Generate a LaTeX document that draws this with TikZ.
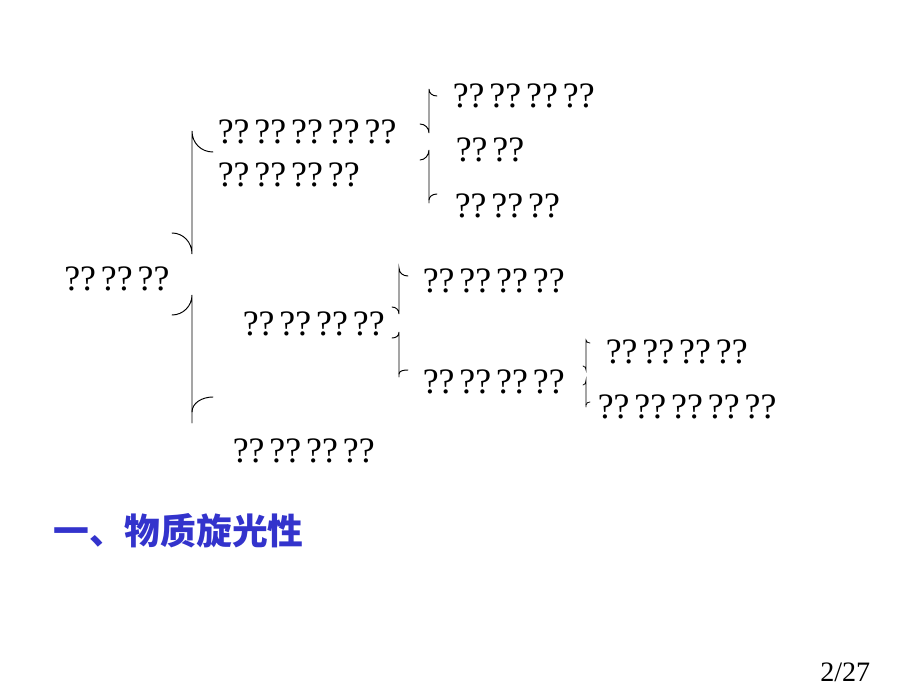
\documentclass[tikz,border=0pt]{standalone}
\usepackage{fontspec}
\setmainfont{Liberation Serif}[WordSpace=0.22]
\newfontfamily\cjk{Noto Sans CJK SC}
\usepackage{tikz}
\definecolor{titleblue}{RGB}{51,51,204}
\tikzstyle{qtext}=[anchor=base west, inner sep=0pt, font=\fontsize{28}{34}\selectfont]
\tikzstyle{titletext}=[anchor=base west, inner sep=0pt, text=titleblue, font=\cjk\bfseries\fontsize{28}{34}\selectfont]
\tikzstyle{pagetext}=[anchor=base west, inner sep=0pt, font=\fontsize{22}{26}\selectfont]
\tikzstyle{bracestroke}=[line width=0.75pt, line cap=round]

\begin{document}
\begin{tikzpicture}[x=0.78261pt, y=-0.78261pt]
\useasboundingbox (0,0) rectangle (920,690);

\node[qtext] (root) at (64,290) {?? ?? ??};
\node[qtext] (up1) at (217.5,144) {?? ?? ?? ?? ??};
\node[qtext] (up2) at (217.5,187) {?? ?? ?? ??};
\node[qtext] (ur1) at (452.5,108) {?? ?? ?? ??};
\node[qtext] (ur2) at (455.5,162) {?? ??};
\node[qtext] (ur3) at (454.5,217) {?? ?? ??};
\node[qtext] (mid) at (242.5,335) {?? ?? ?? ??};
\node[qtext] (mr1) at (422.5,292) {?? ?? ?? ??};
\node[qtext] (mr2) at (422.5,393) {?? ?? ?? ??};
\node[qtext] (lr1) at (605.5,363) {?? ?? ?? ??};
\node[qtext] (lr2) at (597.5,418) {?? ?? ?? ?? ??};
\node[qtext] (low) at (232.5,462) {?? ?? ?? ??};
\node[titletext] (title) at (53,544.5) {一、物质旋光性};
\node[pagetext] (page) at (820,681) {2/27};

% big brace
\draw[bracestroke] (213,152) .. controls (201,152) and (192,143) .. (192,131) -- (192,254)
  .. controls (192,242) and (183,233) .. (172,233);
\draw[bracestroke] (172,315) .. controls (183,315) and (192,306) .. (192,295) -- (192,423);
\draw[bracestroke] (192,412) .. controls (192,403) and (202,397) .. (213,397);

% brace of the upper row
\draw[bracestroke] (437,96) .. controls (432,96) and (429,93) .. (429,89) -- (429,133)
  .. controls (429,128) and (425,124) .. (420,124);
\draw[bracestroke] (420,160) .. controls (425,160) and (429,155) .. (429,150) -- (429,203);
\draw[bracestroke] (429,200) .. controls (429,197) and (432,194) .. (437,194);

% brace of the middle row
\draw[bracestroke] (408,276) .. controls (403,276) and (399,273) .. (399,268) -- (399,314)
  .. controls (399,310) and (396,307) .. (392,307);
\draw[bracestroke] (392,338) .. controls (396,338) and (399,336) .. (399,332) -- (399,377);
\draw[bracestroke] (399,374) .. controls (399,371) and (403,370) .. (408,370);

% small brace
\draw[bracestroke, line width=0.6pt] (590,343) .. controls (588,343) and (586,342) .. (586,340) -- (586,370)
  .. controls (586,368) and (585,366) .. (583,366);
\draw[bracestroke, line width=0.6pt] (583,385) .. controls (585,385) and (586,383) .. (586,380) -- (586,407);
\draw[bracestroke, line width=0.6pt] (586,405) .. controls (586,403) and (588,402) .. (590,402);

\end{tikzpicture}
\end{document}
